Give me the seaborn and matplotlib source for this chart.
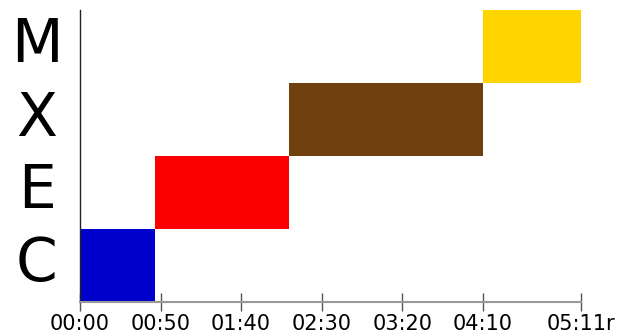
import matplotlib
matplotlib.use("Agg")
import matplotlib.pyplot as plt
import matplotlib.transforms as mtransforms
import seaborn as sns

# Datos de las tareas (inicio y fin en segundos)
tareas = ["C", "E", "X", "M"]
inicio = [0, 46.5, 130, 250]
fin = [46.5, 130, 250, 311]
colores = ["#0000CC", "#FA0000", "#70400E", "#FFD500"]

tick_valores = [0, 50, 100, 150, 200, 250, 311]
tick_etiquetas = ["00:00", "00:50", "01:40", "02:30", "03:20", "04:10", "05:11r"]

sns.set_style("white")
plt.rcParams["font.family"] = ["DejaVu Sans"]
plt.rcParams["text.color"] = "black"
plt.rcParams["xtick.color"] = "#555555"
plt.rcParams["xtick.labelcolor"] = "black"
plt.rcParams["ytick.labelcolor"] = "black"

fig = plt.figure(figsize=(6.21, 3.34), dpi=100)
ax = fig.add_axes([80 / 621, 32 / 334, 501 / 621, 292 / 334])

duracion = [f - i for i, f in zip(inicio, fin)]
ax.barh(range(len(tareas)), duracion, left=inicio, height=1.0,
        color=colores, edgecolor="none")

ax.set_xlim(0, 311)
ax.set_ylim(-0.5, len(tareas) - 0.5)

ax.set_xticks(tick_valores)
ax.set_xticklabels(tick_etiquetas, fontsize=15)
ax.set_yticks(range(len(tareas)))
ax.set_yticklabels(tareas, fontsize=43, ha="center")

ax.tick_params(axis="x", bottom=True, direction="inout", length=13, width=1,
               color="#555555", pad=2)
ax.tick_params(axis="y", left=False, length=0, pad=31)

# subimos un poco las letras del eje y
desplaza = mtransforms.ScaledTranslation(0, 7 / 100, fig.dpi_scale_trans)
for etiqueta in ax.get_yticklabels():
    etiqueta.set_transform(etiqueta.get_transform() + desplaza)

for lado in ["top", "right"]:
    ax.spines[lado].set_visible(False)
ax.spines["left"].set_color("#222222")
ax.spines["left"].set_linewidth(1)
ax.spines["bottom"].set_color("#999999")
ax.spines["bottom"].set_linewidth(1.5)

fig.savefig("out.png", dpi=100)
